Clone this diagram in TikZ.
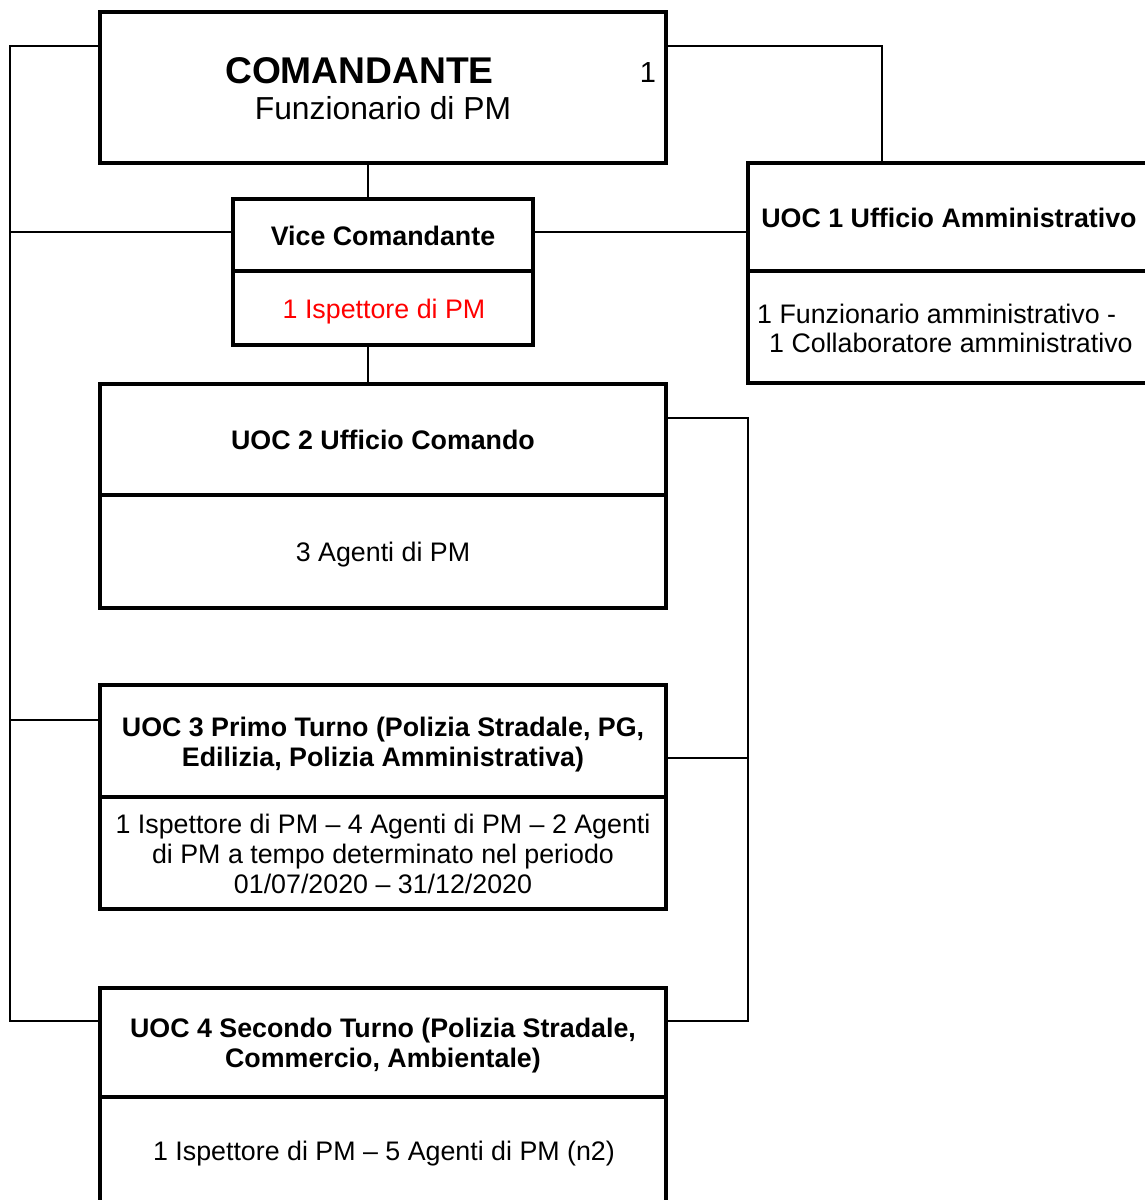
\documentclass[tikz,border=0pt]{standalone}
\usepackage{fontspec}
\setmainfont{Liberation Sans}
\begin{document}
\begin{tikzpicture}[x=1pt,y=-1pt,
  box/.style={draw=black, line width=4pt, rectangle, inner sep=0pt},
  link/.style={draw=black, line width=1.8pt},
  txt/.style={anchor=base, inner sep=0pt, font=\fontsize{26.8}{30}\selectfont},
  btxt/.style={anchor=base, inner sep=0pt, font=\fontsize{26.8}{30}\selectfont\bfseries}]
\useasboundingbox (0,0) rectangle (1145,1200);
\fill[white] (0,0) rectangle (1145,1200);
\clip (0,0) rectangle (1145,1200);

% boxes
\node[box, minimum width=566pt, minimum height=151pt] (com) at (383,87.5) {};
\node[box, minimum width=300pt, minimum height=72pt] (vicet) at (383,235) {};
\node[box, minimum width=300pt, minimum height=74pt] (viceb) at (383,308) {};
\node[box, minimum width=417pt, minimum height=108pt] (uoc1t) at (956.5,217) {};
\node[box, minimum width=417pt, minimum height=112pt] (uoc1b) at (956.5,327) {};
\node[box, minimum width=566pt, minimum height=111pt] (uoc2t) at (383,439.5) {};
\node[box, minimum width=566pt, minimum height=113pt] (uoc2b) at (383,551.5) {};
\node[box, minimum width=566pt, minimum height=112pt] (uoc3t) at (383,741) {};
\node[box, minimum width=566pt, minimum height=112pt] (uoc3b) at (383,853) {};
\node[box, minimum width=566pt, minimum height=109pt] (uoc4t) at (383,1042.5) {};
\node[box, minimum width=566pt, minimum height=118pt] (uoc4b) at (383,1156) {};

% connectors
\coordinate (L0) at (10,46);
\coordinate (L1) at (10,232);
\coordinate (L3) at (10,720);
\coordinate (L4) at (10,1021);
\draw[link] (com.west |- L0) -- (L0) -- (L4) -- (uoc4t.west |- L4);
\draw[link] (L1) -- (vicet.west |- L1);
\draw[link] (L3) -- (uoc3t.west |- L3);
\coordinate (R0) at (882,46);
\draw[link] (com.east |- R0) -- (R0) -- (R0 |- uoc1t.north);
\coordinate (M) at (368,0);
\draw[link] (com.south -| M) -- (vicet.north -| M);
\draw[link] (viceb.south -| M) -- (uoc2t.north -| M);
\coordinate (V1) at (0,232);
\draw[link] (vicet.east |- V1) -- (uoc1t.west |- V1);
\coordinate (Q2) at (748,418);
\coordinate (Q3) at (748,758);
\coordinate (Q4) at (748,1021);
\draw[link] (uoc2t.east |- Q2) -- (Q2) -- (Q4) -- (uoc4t.east |- Q4);
\draw[link] (uoc3t.east |- Q3) -- (Q3);

% texts
\node[anchor=base, inner sep=0pt, font=\fontsize{37.2}{40}\selectfont\bfseries] (comt) at (359.5,83) {COMANDANTE};
\node[anchor=base, inner sep=0pt, font=\fontsize{31.8}{34}\selectfont] (comf) at (383,119) {Funzionario di PM};
\node[anchor=base, inner sep=0pt, font=\fontsize{29}{34}\selectfont] (comn) at (648,82) {1};

\node[btxt] (vicetx) at (383,245) {Vice Comandante};
\node[txt, text={rgb,255:red,255;green,0;blue,0}] (vicebx) at (384,318) {1 Ispettore di PM};

\node[btxt] (uoc1tx) at (949,227) {UOC 1 Ufficio Amministrativo};
\node[txt, anchor=base west] (uoc1bx1) at (757,323) {1 Funzionario amministrativo -};
\node[txt, anchor=base west] (uoc1bx2) at (769,352) {1 Collaboratore amministrativo};

\node[btxt] (uoc2tx) at (383,449) {UOC 2 Ufficio Comando};
\node[txt] (uoc2bx) at (383,561) {3 Agenti di PM};

\node[btxt] (uoc3tx1) at (383,736) {UOC 3 Primo Turno (Polizia Stradale, PG,};
\node[btxt] (uoc3tx2) at (383,766) {Edilizia, Polizia Amministrativa)};
\node[txt] (uoc3bx1) at (383,833) {1 Ispettore di PM -- 4 Agenti di PM -- 2 Agenti};
\node[txt] (uoc3bx2) at (383,863) {di PM a tempo determinato nel periodo};
\node[txt] (uoc3bx3) at (383,893) {01/07/2020 -- 31/12/2020};

\node[btxt] (uoc4tx1) at (383,1037) {UOC 4 Secondo Turno (Polizia Stradale,};
\node[btxt] (uoc4tx2) at (383,1067) {Commercio, Ambientale)};
\node[txt] (uoc4bx) at (384,1160) {1 Ispettore di PM -- 5 Agenti di PM (n2)};
\end{tikzpicture}
\end{document}
